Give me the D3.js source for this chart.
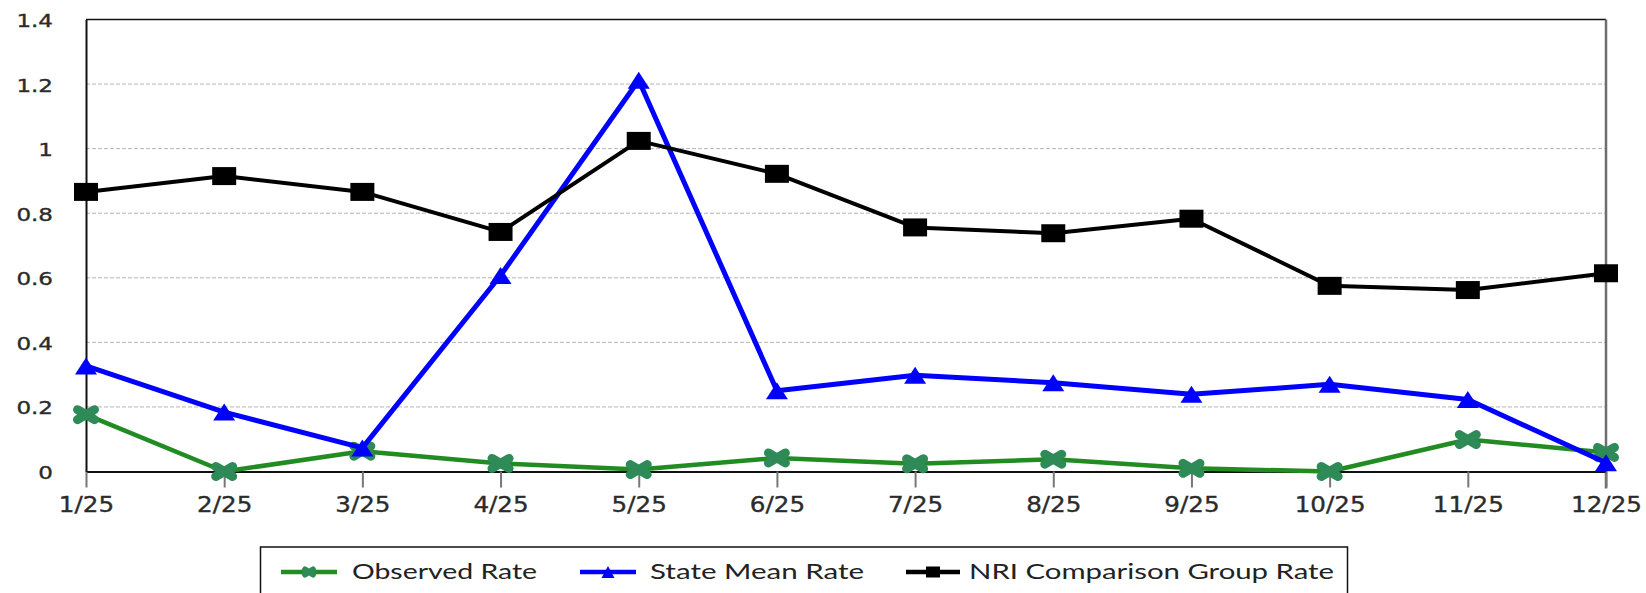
<!DOCTYPE html>
<html>
<head>
<meta charset="utf-8">
<script src="https://cdn.jsdelivr.net/npm/d3@7"></script>
<style>
  body { margin: 0; background: #fff; }
  svg { display: block; }
</style>
</head>
<body>
<svg width="1646" height="593"></svg>
<script>
// chart values
const months = ["1/25", "2/25", "3/25", "4/25", "5/25", "6/25", "7/25", "8/25", "9/25", "10/25", "11/25", "12/25"];
const observed = [0.176, 0.0, 0.063, 0.025, 0.006, 0.042, 0.024, 0.038, 0.01, 0.0, 0.099, 0.059];
const stateMean = [0.327, 0.184, 0.073, 0.607, 1.212, 0.25, 0.298, 0.275, 0.239, 0.27, 0.223, 0.027];
const nri = [0.866, 0.915, 0.866, 0.742, 1.024, 0.922, 0.756, 0.738, 0.783, 0.575, 0.562, 0.614];
const yTicks = [0, 0.2, 0.4, 0.6, 0.8, 1, 1.2, 1.4];
const seriesNames = ["Observed Rate", "State Mean Rate", "NRI Comparison Group Rate"];

let svg = d3.select("svg");

let x = d3.scalePoint().domain(months).range([86, 1606]);
let y = d3.scaleLinear().domain([0, 1.4]).range([471.5, 19.5]);

// dashed grid
svg.append("g")
  .selectAll("line")
  .data(yTicks.filter(function (d) { return d > 0 && d < 1.4; }))
  .enter()
  .append("line")
  .attr("x1", x.range()[0])
  .attr("x2", x.range()[1])
  .attr("y1", function (d) { return y(d); })
  .attr("y2", function (d) { return y(d); })
  .attr("stroke", "#b4b4b4")
  .attr("stroke-width", 1)
  .attr("stroke-dasharray", "4,2");

// top border
svg.append("line")
  .attr("x1", x.range()[0]).attr("x2", x.range()[1])
  .attr("y1", y(1.4)).attr("y2", y(1.4))
  .attr("stroke", "#111").attr("stroke-width", 1.5);

// right border (grey, runs into last tick)
svg.append("line")
  .attr("x1", x.range()[1]).attr("x2", x.range()[1])
  .attr("y1", y(1.4)).attr("y2", y(0) + 17)
  .attr("stroke", "#6e6e6e").attr("stroke-width", 2.5);

// x axis
let xAxis = svg.append("g")
  .attr("transform", "translate(0," + y(0) + ")")
  .call(d3.axisBottom(x).tickSize(16).tickSizeOuter(0));
xAxis.select(".domain").attr("stroke", "#111").attr("stroke-width", 2);
xAxis.selectAll(".tick line").attr("stroke", "#777").attr("stroke-width", 2);
xAxis.selectAll(".tick text")
  .attr("y", null).attr("dy", null)
  .attr("transform", "translate(0,40) scale(1.12,1)")
  .attr("fill", "#2b2b2b")
  .attr("stroke", "#2b2b2b")
  .attr("stroke-width", 0.35)
  .style("font-family", "'DejaVu Sans', Verdana, sans-serif")
  .style("font-size", "22px");

// y axis
let yAxis = svg.append("g")
  .attr("transform", "translate(" + x.range()[0] + ",0)")
  .call(d3.axisLeft(y).tickValues(yTicks).tickSize(0).tickSizeOuter(0)
    .tickFormat(function (d) { return String(+d.toFixed(1)); }));
yAxis.select(".domain").attr("stroke", "#111").attr("stroke-width", 2);
yAxis.selectAll(".tick text")
  .attr("x", null).attr("dy", null)
  .attr("transform", "translate(-33,7) scale(1.28,1)")
  .attr("text-anchor", "end")
  .attr("fill", "#2b2b2b")
  .attr("stroke", "#2b2b2b")
  .attr("stroke-width", 0.35)
  .style("font-family", "'DejaVu Sans', Verdana, sans-serif")
  .style("font-size", "18px");

// marker shapes, stretched like the reference
function markerPath(kind, w, h) {
  if (kind === "square") {
    return "M" + (-w / 2) + "," + (-h / 2) + "h" + w + "v" + h + "h" + (-w) + "Z";
  }
  if (kind === "triangle") {
    return "M0," + (-h / 2) + "L" + (w / 2) + "," + (h / 2) + "L" + (-w / 2) + "," + (h / 2) + "Z";
  }
  // x mark drawn as a stroke
  return "M" + (-w / 2) + "," + (-h / 2) + "L" + (w / 2) + "," + (h / 2) +
    "M" + (-w / 2) + "," + (h / 2) + "L" + (w / 2) + "," + (-h / 2);
}

let series = [
  { name: seriesNames[0], values: observed, line: "#228b22", mark: "#2e8b57", kind: "x", lw: 4.5 },
  { name: seriesNames[1], values: stateMean, line: "#0000ff", mark: "#0000ff", kind: "triangle", lw: 5 },
  { name: seriesNames[2], values: nri, line: "#000000", mark: "#000000", kind: "square", lw: 4 },
];

let line = d3.line()
  .x(function (d, i) { return x(months[i]); })
  .y(function (d) { return y(d); });

series.forEach(function (s) {
  let g = svg.append("g");
  g.append("path")
    .attr("d", line(s.values))
    .attr("fill", "none")
    .attr("stroke", s.line)
    .attr("stroke-width", s.lw)
    .attr("stroke-linejoin", "round");

  let marks = g.selectAll(".mark")
    .data(s.values)
    .enter()
    .append("path")
    .attr("class", "mark")
    .attr("transform", function (d, i) {
      return "translate(" + x(months[i]) + "," + y(d) + ")";
    });
  if (s.kind === "x") {
    marks.attr("d", markerPath("x", 17, 10))
      .attr("fill", "none")
      .attr("stroke", s.mark)
      .attr("stroke-width", 9)
      .attr("stroke-linecap", "round");
  } else if (s.kind === "triangle") {
    marks.attr("d", markerPath("triangle", 22, 17)).attr("fill", s.mark);
  } else {
    marks.attr("d", markerPath("square", 24, 18)).attr("fill", s.mark);
  }
});

// legend
let legend = svg.append("g");
legend.append("rect")
  .attr("x", 260.5).attr("y", 547)
  .attr("width", 1087).attr("height", 80)
  .attr("fill", "#fff")
  .attr("stroke", "#111")
  .attr("stroke-width", 1.5);

let legendItems = [
  { x1: 281, x2: 337, tx: 352, tw: 185 },
  { x1: 580, x2: 636, tx: 650, tw: 214 },
  { x1: 906, x2: 960, tx: 969, tw: 365 },
];

legendItems.forEach(function (it, i) {
  let s = series[i];
  let cx = (it.x1 + it.x2) / 2;
  legend.append("line")
    .attr("x1", it.x1).attr("x2", it.x2)
    .attr("y1", 572).attr("y2", 572)
    .attr("stroke", s.line).attr("stroke-width", 4.5);
  let m = legend.append("path").attr("transform", "translate(" + cx + ",572)");
  if (s.kind === "x") {
    m.attr("d", markerPath("x", 8, 5)).attr("fill", "none")
      .attr("stroke", s.mark).attr("stroke-width", 6).attr("stroke-linecap", "round");
  } else if (s.kind === "triangle") {
    m.attr("d", markerPath("triangle", 13, 12)).attr("fill", s.mark);
  } else {
    m.attr("d", markerPath("square", 14, 11)).attr("fill", s.mark);
  }
  legend.append("text")
    .attr("x", it.tx).attr("y", 579)
    .attr("textLength", it.tw)
    .attr("lengthAdjust", "spacingAndGlyphs")
    .attr("fill", "#222")
    .style("font-family", "Lato, 'Liberation Sans', sans-serif")
    .style("font-size", "21px")
    .text(s.name);
});
</script>
</body>
</html>
